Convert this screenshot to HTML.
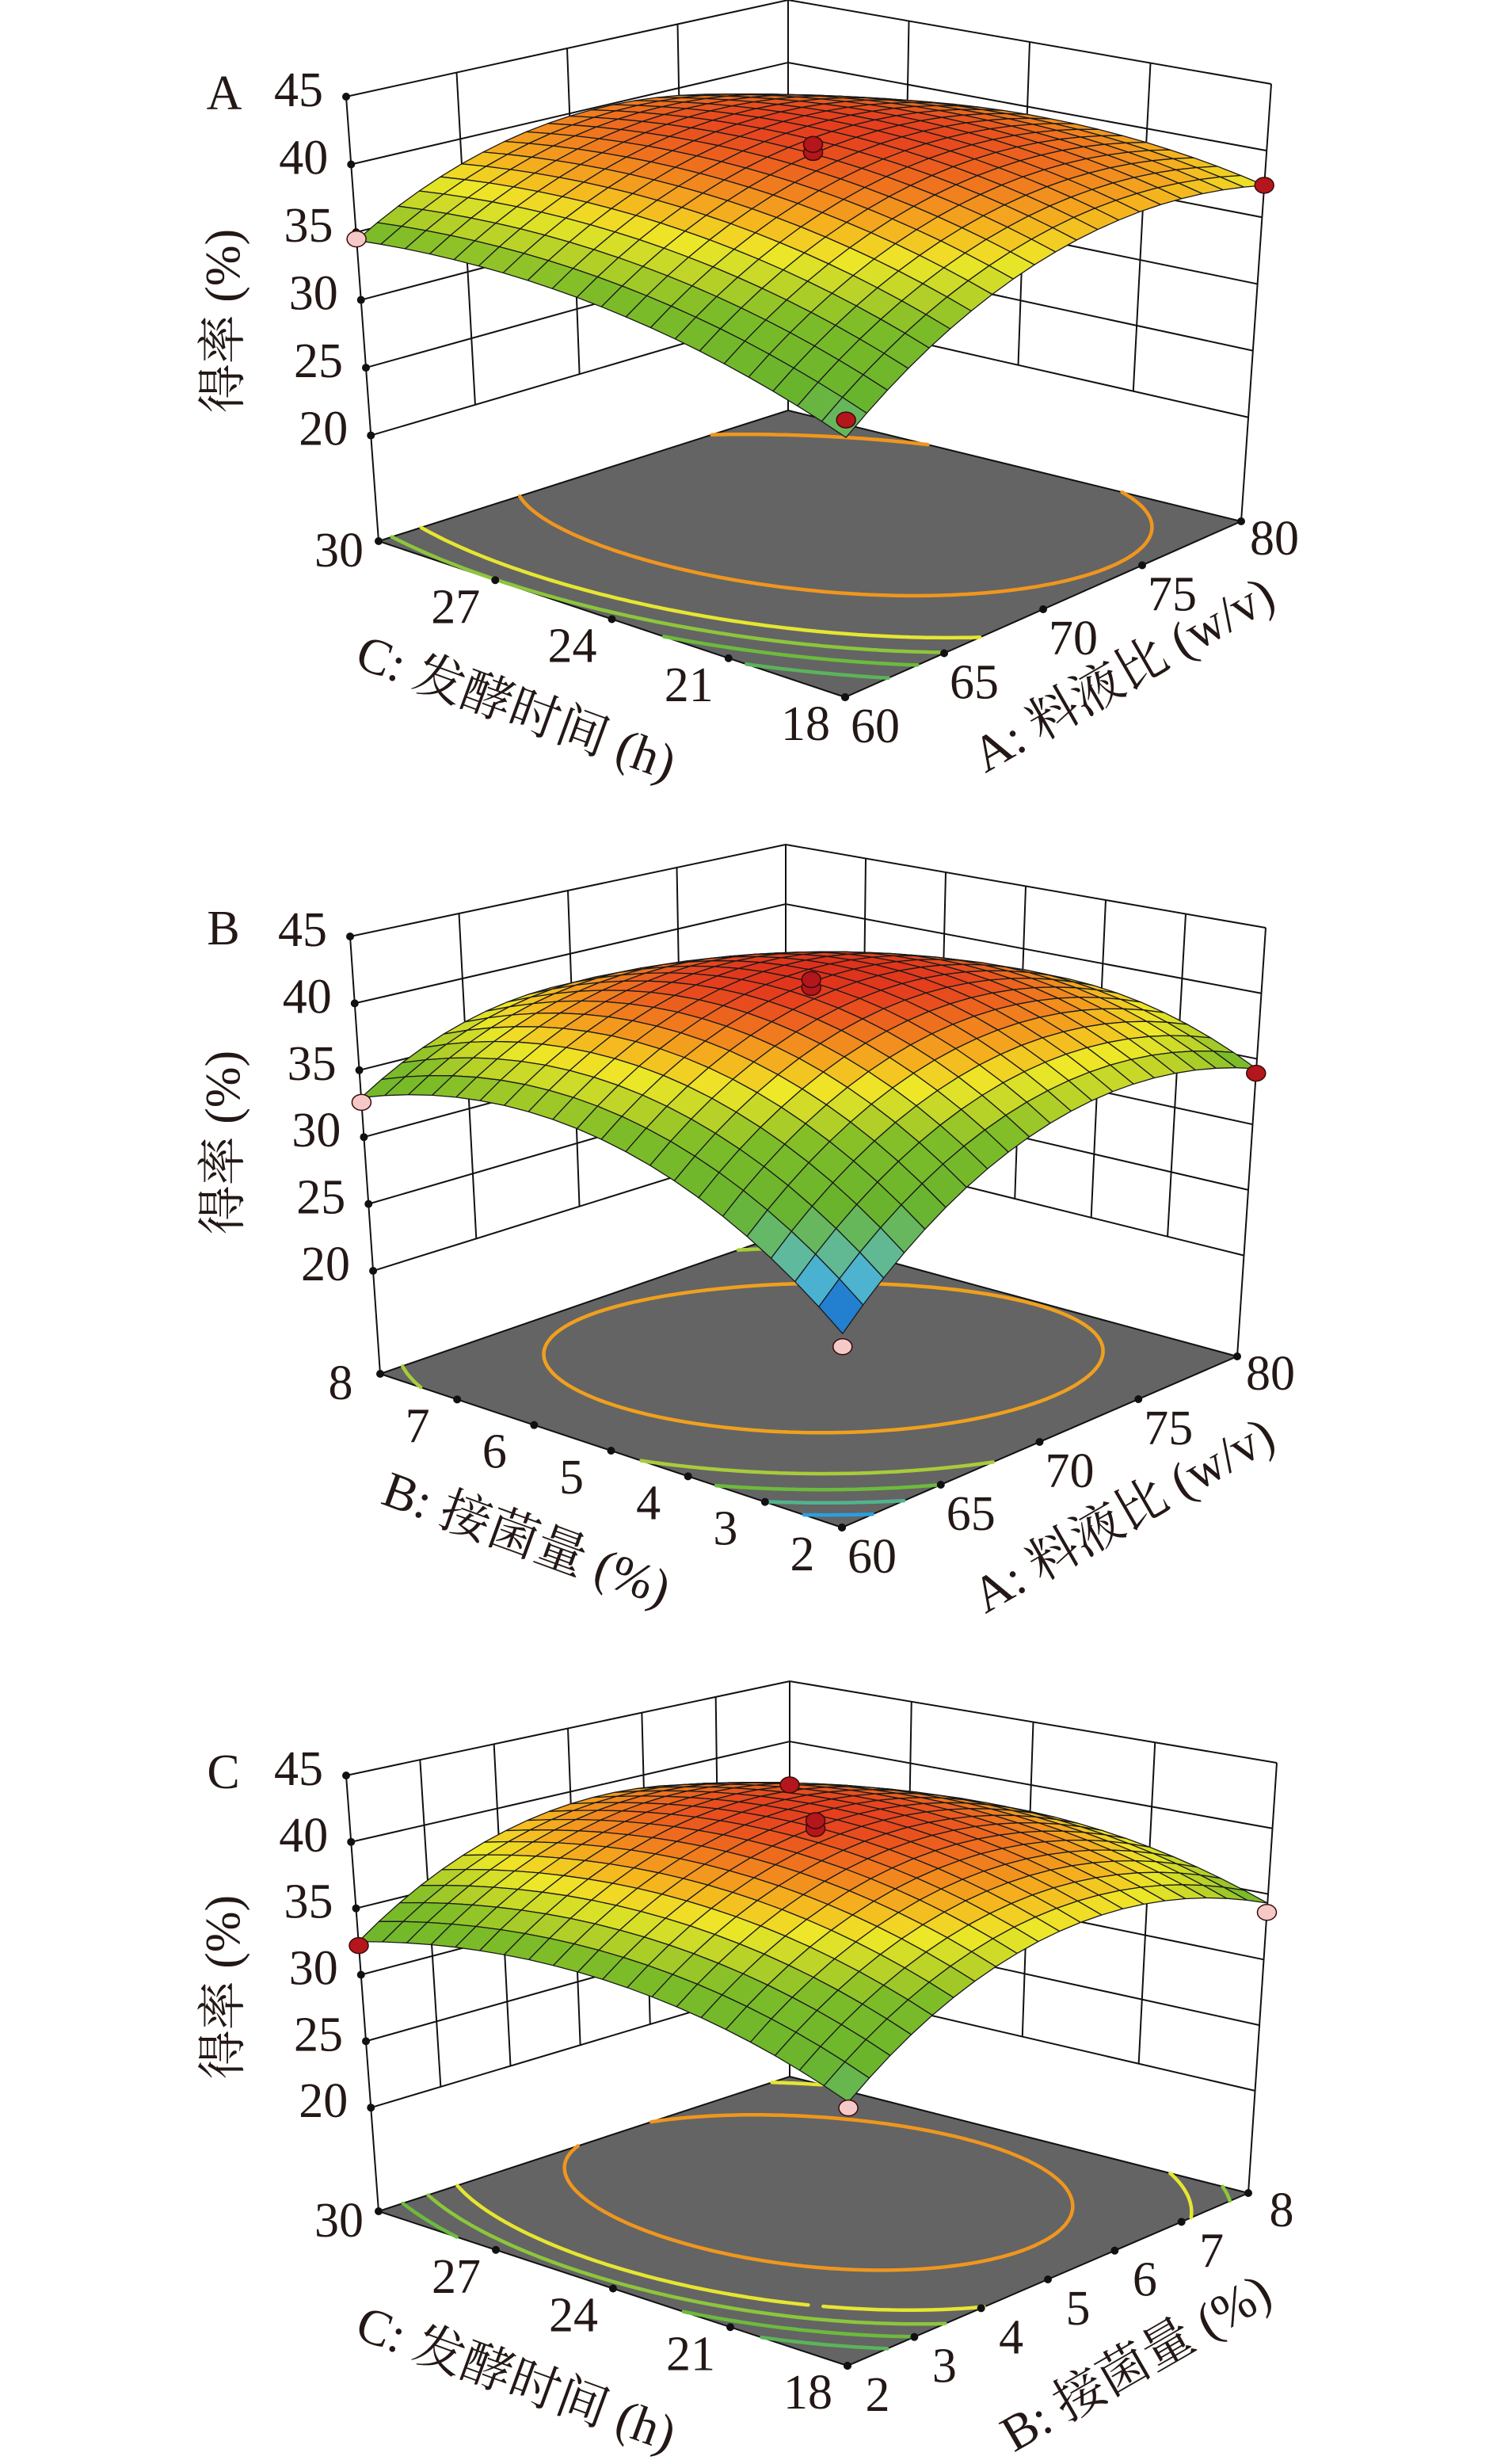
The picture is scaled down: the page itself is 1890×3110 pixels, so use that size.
<!DOCTYPE html>
<html><head><meta charset="utf-8">
<style>
html,body{margin:0;padding:0;background:#fff;}
svg{display:block;}
text{font-family:"Liberation Serif","Noto Serif CJK SC",serif;fill:#231815;}
</style></head>
<body>
<svg id="fig" width="1890" height="3110" viewBox="0 0 1890 3110" xmlns="http://www.w3.org/2000/svg">
<rect x="0" y="0" width="1890" height="3110" fill="#fff"/>
</svg>
<script>
// ---- data (quadratic model coefficients read from surfaces: b0, bU, bV, bUU, bVV, bUV) ----
const coefA = [41.0, 2.5, 1.0, -4.1, -2.2, -1.2];
const coefB = [41.8, 1.83, 1.18, -5.4, -5.3, -2.5];
const coefC = [41.2, 1.75, 0.85, -5.05, -3.0, -0.25];
const zTicks = [20, 25, 30, 35, 40, 45];
const ticksA = ['60', '65', '70', '75', '80'];
const ticksB = ['2', '3', '4', '5', '6', '7', '8'];
const ticksC = ['18', '21', '24', '27', '30'];
// design points: u, v, z, above(1)/below(0)
const ptsAu = [0, 0, -1, 1, -1];
const ptsAv = [0, 0, 1, -1, -1];
const ptsAz = [41.1, 41.7, 34.5, 37.4, 31.2];
const ptsAr = [1, 1, 0, 1, 1];
const ptsBu = [0, 0, -1, 1, -1];
const ptsBv = [0, 0, 1, -1, -1];
const ptsBz = [41.4, 42.0, 32.6, 33.9, 24.7];
const ptsBr = [1, 1, 0, 1, 0];
const ptsCu = [0, 0, -1, 1, -1, 1];
const ptsCv = [0, 0, 1, -1, -1, 1];
const ptsCz = [41.1, 41.7, 32.2, 33.6, 29.9, 36.4];
const ptsCr = [1, 1, 1, 0, 0, 1];
const levelsA = [39, 36.2, 35.0, 33.8, 32.4];
const levelsB = [38.5, 34.0, 31.8, 29.8, 27.8];
const levelsC = [39, 36.2, 35.0, 33.8, 32.5];
const lcolA = ['#f0961e', '#e6e632', '#8cc63c', '#6cbb3c', '#5ab45a'];
const lcolB = ['#f0a01e', '#a8cc3a', '#6cbb3c', '#50b48c', '#28a0e0'];
const lcolC = ['#f0961e', '#e6e632', '#8cc63c', '#6cbb3c', '#5ab45a'];

const NS = 'http://www.w3.org/2000/svg';
const svg = document.getElementById('fig');
function mk(tag, attrs, parent) {
  const e = document.createElementNS(NS, tag);
  for (const k in attrs) e.setAttribute(k, attrs[k]);
  (parent || svg).appendChild(e);
  return e;
}
const stops = [
  [25.5, [20, 50, 140]], [26.5, [30, 95, 190]], [27.5, [40, 160, 225]], [28.7, [90, 185, 200]],
  [30.2, [100, 185, 120]], [32, [105, 180, 45]], [35, [125, 188, 40]], [36.3, [185, 210, 40]],
  [37.6, [238, 232, 40]], [38.8, [245, 180, 30]], [40.1, [240, 120, 30]], [41.3, [230, 65, 30]], [42.5, [215, 35, 25]]
];
function cmap(z) {
  if (z <= stops[0][0]) return 'rgb(' + stops[0][1].join(',') + ')';
  for (let i = 1; i < stops.length; i++) {
    if (z <= stops[i][0]) {
      const a = stops[i - 1], b = stops[i], t = (z - a[0]) / (b[0] - a[0]);
      const c = a[1].map((v, k) => Math.round(v + (b[1][k] - v) * t));
      return 'rgb(' + c.join(',') + ')';
    }
  }
  return 'rgb(' + stops[stops.length - 1][1].join(',') + ')';
}

function panel(P) {
  const g = mk('g', {});
  
  
  const co = P.coef;
  const f = (u, v) => co[0] + co[1] * u + co[2] * v + co[3] * u * u + co[4] * v * v + co[5] * u * v;
  const zf = P.zf, zt = 45;
  function bil(C, u, v) {
    const s = (u + 1) / 2, r = (v + 1) / 2;
    return [
      C.F[0] * (1 - s) * (1 - r) + C.R[0] * s * (1 - r) + C.L[0] * (1 - s) * r + C.K[0] * s * r,
      C.F[1] * (1 - s) * (1 - r) + C.R[1] * s * (1 - r) + C.L[1] * (1 - s) * r + C.K[1] * s * r
    ];
  }
  function pr(u, v, z) {
    const a = bil(P.floor, u, v), b = bil(P.top, u, v), t = (z - zf) / (zt - zf);
    return [a[0] + (b[0] - a[0]) * t, a[1] + (b[1] - a[1]) * t];
  }
  const fmt = p => p[0].toFixed(1) + ',' + p[1].toFixed(1);
  const line = (p, q, nm, w) => {
    const e = mk('line', { x1: p[0], y1: p[1], x2: q[0], y2: q[1], stroke: '#111', 'stroke-width': w || 2 }, g);
    
    
  };
  for (const z of zTicks) {
    line(pr(-1, 1, z), pr(1, 1, z), 'left-wall-gridline');
    line(pr(1, 1, z), pr(1, -1, z), 'right-wall-gridline');
  }
  const nU = P.uTicks.length - 1, nV = P.vTicks.length - 1;
  for (let i = 1; i < nU; i++) { const u = -1 + 2 * i / nU; line(pr(u, 1, 20), pr(u, 1, 45), 'left-wall-gridline'); }
  for (let i = 1; i < nV; i++) { const v = -1 + 2 * i / nV; line(pr(1, v, 20), pr(1, v, 45), 'right-wall-gridline'); }
  line(pr(-1, 1, zf), pr(-1, 1, 45), 'z-axis-line');
  line(pr(1, 1, zf), pr(1, 1, 45), 'back-edge-line');
  line(pr(1, -1, zf), pr(1, -1, 45), 'right-edge-line');
  const fl = mk('polygon', { points: [pr(-1, 1, zf), pr(-1, -1, zf), pr(1, -1, zf), pr(1, 1, zf)].map(fmt).join(' '), fill: '#646464', stroke: '#111', 'stroke-width': 2 }, g);
  
  
  const M = 90;
  P.levels.forEach((lv, li) => {
    let d = '';
    for (let i = 0; i < M; i++) for (let j = 0; j < M; j++) {
      const u0 = -1 + 2 * i / M, u1 = -1 + 2 * (i + 1) / M, v0 = -1 + 2 * j / M, v1 = -1 + 2 * (j + 1) / M;
      const c = [[u0, v0, f(u0, v0)], [u1, v0, f(u1, v0)], [u1, v1, f(u1, v1)], [u0, v1, f(u0, v1)]];
      const pts = [];
      for (let k = 0; k < 4; k++) {
        const a = c[k], b = c[(k + 1) % 4];
        if ((a[2] - lv) * (b[2] - lv) < 0) {
          const t = (lv - a[2]) / (b[2] - a[2]);
          pts.push([a[0] + (b[0] - a[0]) * t, a[1] + (b[1] - a[1]) * t]);
        }
      }
      if (pts.length >= 2) d += 'M' + fmt(pr(pts[0][0], pts[0][1], zf)) + 'L' + fmt(pr(pts[1][0], pts[1][1], zf));
      if (pts.length === 4) d += 'M' + fmt(pr(pts[2][0], pts[2][1], zf)) + 'L' + fmt(pr(pts[3][0], pts[3][1], zf));
    }
    const e = mk('path', { d: d, stroke: P.lcol[li], 'stroke-width': 4.5, fill: 'none', 'stroke-linecap': 'round' }, g);
    
    
  });
  const dot = (p, nm) => {
    const e = mk('circle', { cx: p[0], cy: p[1], r: 5, fill: '#111' }, g);
    
    
  };
  const txt = (x, y, s, nm, extra) => {
    const e = mk('text', Object.assign({ x: x, y: y, 'font-size': 62, 'text-anchor': 'middle', 'dominant-baseline': 'central' }, extra || {}), g);
    e.textContent = s;
    
    
    return e;
  };
  P.uTicks.forEach((s, i) => {
    const u = -1 + 2 * i / nU, p = pr(u, -1, zf);
    dot(p, 'u-axis-tick');
    if (i === nU) txt(p[0] + 42, p[1] + 22, s, 'u-axis-tick-label');
    else txt(p[0] + 38, p[1] + 37, s, 'u-axis-tick-label');
  });
  P.vTicks.forEach((s, i) => {
    const v = -1 + 2 * i / nV, p = pr(-1, v, zf);
    dot(p, 'v-axis-tick');
    if (i === nV) txt(p[0] - 50, p[1] + 12, s, 'v-axis-tick-label');
    else txt(p[0] - 50, p[1] + 34, s, 'v-axis-tick-label');
  });
  zTicks.forEach(z => {
    const p = pr(-1, 1, z);
    dot(p, 'z-axis-tick');
    txt(p[0] - 60, p[1] - 8, String(z), 'z-axis-tick-label');
  });
  const N = 20, quads = [];
  for (let i = 0; i < N; i++) for (let j = 0; j < N; j++) {
    const u0 = -1 + 2 * i / N, u1 = -1 + 2 * (i + 1) / N, v0 = -1 + 2 * j / N, v1 = -1 + 2 * (j + 1) / N;
    const zs = [f(u0, v0), f(u1, v0), f(u1, v1), f(u0, v1)];
    quads.push({ d: u0 + u1 + v0 + v1, pts: [pr(u0, v0, zs[0]), pr(u1, v0, zs[1]), pr(u1, v1, zs[2]), pr(u0, v1, zs[3])], z: (zs[0] + zs[1] + zs[2] + zs[3]) / 4 });
  }
  quads.sort((a, b) => b.d - a.d);
  const sg = mk('g', {}, g);
  
  
  for (const q of quads) {
    const e = mk('polygon', { points: q.pts.map(fmt).join(' '), fill: cmap(q.z), stroke: '#1a1a1a', 'stroke-width': 1.3, 'stroke-linejoin': 'round' }, sg);
    
    
  }
  for (let k = 0; k < P.pu.length; k++) {
    const p = pr(P.pu[k], P.pv[k], P.pz[k]);
    const e = mk('ellipse', { cx: p[0], cy: p[1], rx: 12, ry: 10, fill: P.pr[k] ? '#b3161b' : '#f6c9c9', stroke: '#3a0a0a', 'stroke-width': 1.5 }, g);
    
    
  }
  txt(P.letter[1], P.letter[2], P.letter[0], 'panel-letter');
  txt(282, P.ytY, '得率 (%)', 'y-axis-title', { transform: 'rotate(-90 282 ' + P.ytY + ')' });
  txt(0, 0, P.vTitle[0], 'v-axis-title', { transform: 'translate(' + P.vTitle[1] + ' ' + P.vTitle[2] + ') rotate(20)', 'font-size': 64 });
  txt(0, 0, P.uTitle[0], 'u-axis-title', { transform: 'translate(' + P.uTitle[1] + ' ' + P.uTitle[2] + ') rotate(-30)', 'font-size': 64 });
}

panel({
  name: 'panel-a', coef: coefA, zf: 12.2, levels: levelsA, lcol: lcolA,
  floor: { L: [478, 683], F: [1067, 880], R: [1567, 658], K: [995, 518] },
  top: { L: [437, 122], F: [1069, 276], R: [1605, 106], K: [995, 0] },
  uTicks: ticksA, vTicks: ticksC,
  pu: ptsAu, pv: ptsAv, pz: ptsAz, pr: ptsAr,
  letter: ['A', 283, 118], ytY: 405,
  vTitle: ['C: 发酵时间 (h)', 652, 893], uTitle: ['A: 料液比 (w/v)', 1418, 851]
});
panel({
  name: 'panel-b', coef: coefB, zf: 12.3, levels: levelsB, lcol: lcolB,
  floor: { L: [480, 1734], F: [1063, 1928], R: [1562, 1712], K: [992, 1557] },
  top: { L: [442, 1182], F: [1065, 1326], R: [1598, 1171], K: [992, 1066] },
  uTicks: ticksA, vTicks: ticksB,
  pu: ptsBu, pv: ptsBv, pz: ptsBz, pr: ptsBr,
  letter: ['B', 282, 1172], ytY: 1442,
  vTitle: ['B: 接菌量 (%)', 665, 1942], uTitle: ['A: 料液比 (w/v)', 1418, 1912]
});
panel({
  name: 'panel-c', coef: coefC, zf: 12.2, levels: levelsC, lcol: lcolC,
  floor: { L: [478, 2791], F: [1070, 2986], R: [1576, 2768], K: [997, 2621] },
  top: { L: [437, 2241], F: [1072, 2383], R: [1612, 2225], K: [997, 2122] },
  uTicks: ticksB, vTicks: ticksC,
  pu: ptsCu, pv: ptsCv, pz: ptsCz, pr: ptsCr,
  letter: ['C', 282, 2237], ytY: 2508,
  vTitle: ['C: 发酵时间 (h)', 652, 3002], uTitle: ['B: 接菌量 (%)', 1434, 2982]
});
</script>
</body></html>
